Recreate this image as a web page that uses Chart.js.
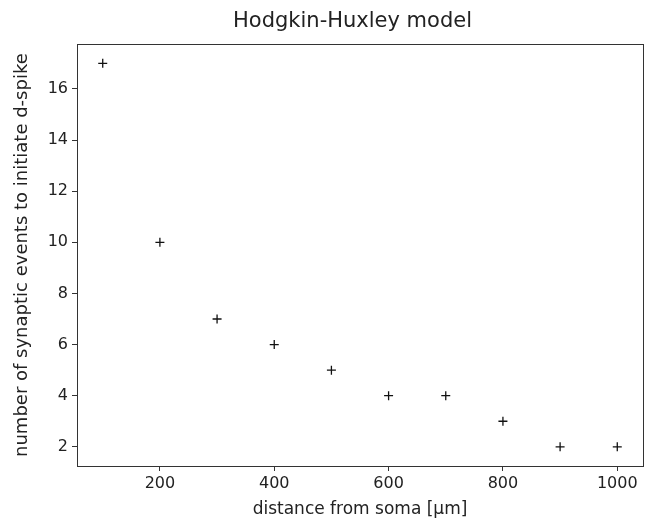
<!DOCTYPE html>
<html>
<head>
<meta charset="utf-8">
<script src="https://cdn.jsdelivr.net/npm/chart.js@4"></script>
<style>
  html, body { margin: 0; padding: 0; background: #fff; }
  #wrap { width: 650px; height: 524px; }
</style>
</head>
<body>
<div id="wrap"><canvas id="hhChart" width="650" height="524"></canvas></div>
<script>
// distance from soma (um) and events needed
const distances = [100, 200, 300, 400, 500, 600, 700, 800, 900, 1000];
const events = [17, 10, 7, 6, 5, 4, 4, 3, 2, 2];
const xTicks = [200, 400, 600, 800, 1000];
const yTicks = [2, 4, 6, 8, 10, 12, 14, 16];

const font = 'DejaVu Sans';

// draw the box around the plot area, and center the title over it
const frame = {
  id: 'frame',
  afterLayout(chart) {
    const t = chart.titleBlock;
    if (t) {
      t.left = chart.chartArea.left - 15;
      t.right = chart.chartArea.right;
      t.width = t.right - t.left;
    }
  },
  afterDraw(chart) {
    const a = chart.chartArea;
    const ctx = chart.ctx;
    ctx.save();
    ctx.strokeStyle = '#333';
    ctx.lineWidth = 1;
    ctx.strokeRect(Math.round(a.left) + 0.5, Math.round(a.top) + 0.5,
      Math.round(a.right - a.left), Math.round(a.bottom - a.top));
    ctx.restore();
  }
};

const axisGrid = {
  display: true,
  drawOnChartArea: false,
  drawTicks: true,
  tickLength: 5,
  color: '#333'
};

new Chart(document.getElementById('hhChart'), {
  type: 'scatter',
  data: {
    datasets: [{
      data: distances.map((d, i) => ({ x: d, y: events[i] })),
      pointStyle: 'cross',
      radius: 4.5,
      hoverRadius: 4.5,
      borderColor: '#111',
      backgroundColor: '#111',
      borderWidth: 1.3
    }]
  },
  options: {
    responsive: false,
    animation: false,
    layout: { padding: { left: 0, right: 7, top: 0, bottom: 0 } },
    plugins: {
      legend: { display: false },
      tooltip: { enabled: false },
      title: {
        display: true,
        text: 'Hodgkin-Huxley model',
        color: '#222',
        font: { family: font, size: 21, weight: 'normal' },
        padding: { top: 9, bottom: 10 }
      }
    },
    scales: {
      x: {
        type: 'linear',
        min: 55,
        max: 1045,
        afterBuildTicks: s => { s.ticks = xTicks.map(v => ({ value: v })); },
        afterFit: s => { s.height = 58; },
        grid: axisGrid,
        border: { display: false },
        ticks: { color: '#222', font: { family: font, size: 16 }, padding: 3, callback: v => String(v) },
        title: {
          display: true,
          text: 'distance from soma [\u03bcm]',
          color: '#222',
          font: { family: font, size: 17 },
          padding: { top: 4, bottom: 4 }
        }
      },
      y: {
        type: 'linear',
        min: 1.25,
        max: 17.75,
        afterBuildTicks: s => { s.ticks = yTicks.map(v => ({ value: v })); },
        afterFit: s => { s.width = 77; },
        grid: axisGrid,
        border: { display: false },
        ticks: { color: '#222', font: { family: font, size: 16 }, padding: 4, callback: v => String(v) },
        title: {
          display: true,
          text: 'number of synaptic events to initiate d-spike',
          color: '#222',
          font: { family: font, size: 18 },
          padding: { top: 12, bottom: 4 }
        }
      }
    }
  },
  plugins: [frame]
});
</script>
</body>
</html>
